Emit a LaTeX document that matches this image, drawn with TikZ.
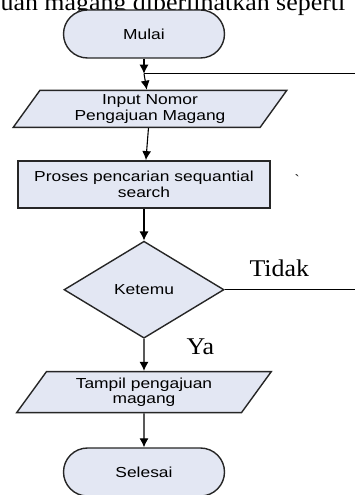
\documentclass[tikz,border=0pt]{standalone}
\usepackage{fontspec}
\newfontfamily\boxfont{Liberation Sans}[FakeStretch=1.2]
\newfontfamily\labelfont{Liberation Serif}[FakeStretch=1.08]
\usetikzlibrary{arrows.meta}
\usetikzlibrary{positioning}
\usetikzlibrary{shapes.geometric}
\definecolor{boxfill}{RGB}{227,231,243}

\begin{document}
\begin{tikzpicture}[x=1pt,y=1pt,>={Latex[length=9pt,width=9pt]},line width=1.1pt]
						\tikzstyle{box} = [draw=black!85, fill=boxfill, line width=1.4pt, align=center, inner sep=2pt, font=\boxfont\fontsize{14.5}{15.5}\selectfont]
						\tikzstyle{terminal} = [box, rectangle, rounded corners=24pt, minimum width=161pt, minimum height=48pt]
						\tikzstyle{io} = [box, trapezium, trapezium stretches=true, trapezium left angle=60, trapezium right angle=120, minimum width=274pt, minimum height=37pt]
						\tikzstyle{process} = [box, rectangle, minimum width=252pt, minimum height=47pt]
						\tikzstyle{decision} = [box, diamond, minimum width=160pt, minimum height=97pt]
						\tikzstyle{note} = [inner sep=2pt, font=\labelfont\fontsize{24}{26}\selectfont]
						\useasboundingbox (0,0) rectangle (355,495);
						\clip (0,0) rectangle (355,495);
						\node [note,anchor=base west](caption) at (-2,484) {uan magang diperlihatkan seperti};
						\node [terminal](start) at (144,461) {Mulai};
						\coordinate [below=15pt of start](join);
						\node [io,below=31pt of start,xshift=6pt](input) {Input Nomor\\Pengajuan Magang};
						\node [process,below=32pt of input,xshift=-6pt](search) {Proses pencarian sequantial\\search};
						\node [note,font=\labelfont\fontsize{14}{14}\selectfont](tick) at (297,315) {\textasciigrave};
						\node [decision,below=32pt of search](check) {Ketemu};
						\node [io,below=32pt of check,trapezium left angle=57,trapezium right angle=123,minimum width=255pt,minimum height=41pt](show) {Tampil pengajuan\\magang};
						\node [terminal,below=34pt of show](stop) {Selesai};
						\draw [->] (start) -- (join);
						\draw [->] (join) -- (input);
						\draw [->] (input) -- (search);
						\draw [->] (search) -- (check);
						\draw [->] (check) -- node[note,near start,right=40pt]{Ya} (show);
						\draw [->] (show) -- (stop);
						\draw (check.east) -- node[note,pos=0.39,above=10pt]{Tidak} ++(140,0) |- (join);
					\end{tikzpicture}
\end{document}
